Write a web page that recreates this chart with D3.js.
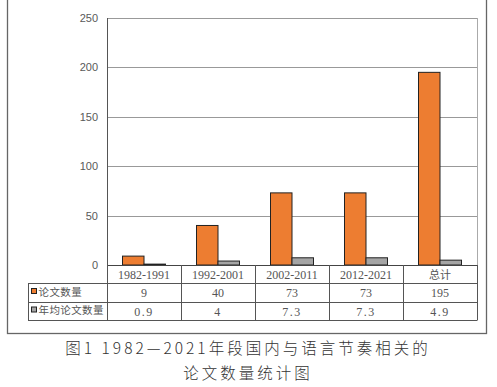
<!DOCTYPE html>
<html><head><meta charset="utf-8">
<script src="https://cdn.jsdelivr.net/npm/d3@7"></script>
<style>body{margin:0;background:#fff}svg{display:block}</style>
</head><body>
<svg id="c" width="497" height="387"></svg>
<script>
const categories = ["1982-1991","1992-2001","2002-2011","2012-2021","总计"];
const seriesNames = ["论文数量","年均论文数量"];
const papers = [9,40,73,73,195];
const avgPapers = [0.9,4,7.3,7.3,4.9];
const paperLabels = ["9","40","73","73","195"];
const avgLabels = ["0.9","4","7.3","7.3","4.9"];
const yTicks = [0,50,100,150,200,250];
const colors = ["#ED7D31","#A5A5A5"];
const captionLines = ["图1 1982—2021年段国内与语言节奏相关的","论文数量统计图"];

const svg = d3.select("#c");
const L=107, R=477, T=18, B=265;
const x = d3.scaleBand().domain(categories).range([L,R]);
const y = d3.scaleLinear().domain([0,250]).range([B,T]);

// outer frame
svg.append("rect").attr("x",7.5).attr("y",-5).attr("width",479).attr("height",338.5)
  .attr("fill","none").attr("stroke","#666").attr("stroke-width",1.3);

// gridlines
svg.append("g").selectAll("line").data(yTicks.filter(d=>d>0)).join("line")
  .attr("x1",L).attr("x2",R).attr("y1",d=>Math.round(y(d))+0.5).attr("y2",d=>Math.round(y(d))+0.5)
  .attr("stroke","#999").attr("stroke-width",1);
svg.append("line").attr("x1",R+0.5).attr("x2",R+0.5).attr("y1",y(250)).attr("y2",B).attr("stroke","#aaa");

// y axis
const yAxis = d3.axisLeft(y).tickValues(yTicks).tickSize(0).tickPadding(9);
const ga = svg.append("g").attr("transform",`translate(${L},0)`).call(yAxis);
ga.select(".domain").remove();
ga.selectAll("text").attr("font-family","Liberation Sans, Arial, sans-serif").attr("font-size",11).attr("fill","#595959");
svg.append("line").attr("x1",L+0.5).attr("x2",L+0.5).attr("y1",T).attr("y2",B).attr("stroke","#555");

// bars
const bw = 21.5;
const series = [papers, avgPapers];
series.forEach((vals,si)=>{
  svg.append("g").selectAll("rect").data(vals).join("rect")
    .attr("x",(d,i)=>x(categories[i])+x.bandwidth()/2 - bw + si*bw)
    .attr("y",d=>y(d))
    .attr("width",bw)
    .attr("height",d=>B-y(d))
    .attr("fill",colors[si]).attr("stroke","#222").attr("stroke-width",1);
});

// table
const tl = 28;
const tc = "#555";
const tg = svg.append("g").attr("stroke",tc).attr("stroke-width",1);
tg.append("line").attr("x1",L).attr("x2",R).attr("y1",B+0.5).attr("y2",B+0.5).attr("stroke","#444");
[283,302,320].forEach(yy=>tg.append("line").attr("x1",tl).attr("x2",R).attr("y1",yy+0.5).attr("y2",yy+0.5));
tg.append("line").attr("x1",tl+0.5).attr("x2",tl+0.5).attr("y1",283).attr("y2",320.5);
categories.forEach((c,i)=>{
  const xx = Math.round(x(c))+0.5;
  tg.append("line").attr("x1",xx).attr("x2",xx).attr("y1",B).attr("y2",320.5);
});
tg.append("line").attr("x1",R+0.5).attr("x2",R+0.5).attr("y1",B).attr("y2",320.5);

// category labels
svg.append("g").selectAll("text").data(categories).join("text")
  .attr("x",d=>x(d)+x.bandwidth()/2).attr("y",278.5).attr("text-anchor","middle")
  .attr("font-family",d=>/\d/.test(d)?"Liberation Serif, serif":"Noto Sans CJK SC")
  .attr("font-size",d=>/\d/.test(d)?12:11).attr("fill","#555").text(d=>d);
// value rows
[paperLabels, avgLabels].forEach((labs,ri)=>{
  svg.append("g").selectAll("text").data(labs).join("text")
    .attr("x",(d,i)=>x(categories[i])+x.bandwidth()/2).attr("y",297+ri*18.5).attr("text-anchor","middle")
    .attr("font-family","Liberation Serif, serif").attr("font-size",12).attr("fill","#555")
    .attr("letter-spacing",ri===1?1.5:0).text(d=>d);
});
// row headers with legend keys
seriesNames.forEach((n,ri)=>{
  const cy = 292+ri*18.5;
  svg.append("rect").attr("x",31.5).attr("y",cy-3.5).attr("width",5).attr("height",5)
    .attr("fill",colors[ri]).attr("stroke","#222").attr("stroke-width",1);
  svg.append("text").attr("x",38.5).attr("y",cy+3.5).attr("font-family","Noto Sans CJK SC")
    .attr("font-size",10.5).attr("letter-spacing",0.4).attr("fill","#555").text(n);
});

// caption
svg.append("g").selectAll("text").data(captionLines).join("text")
  .attr("x",248).attr("y",(d,i)=>354+i*25).attr("text-anchor","middle")
  .attr("font-family","Noto Sans CJK SC").attr("font-size",15.5).attr("letter-spacing",3)
  .attr("font-weight",300).attr("fill","#333").text(d=>d);
</script>
</body></html>
